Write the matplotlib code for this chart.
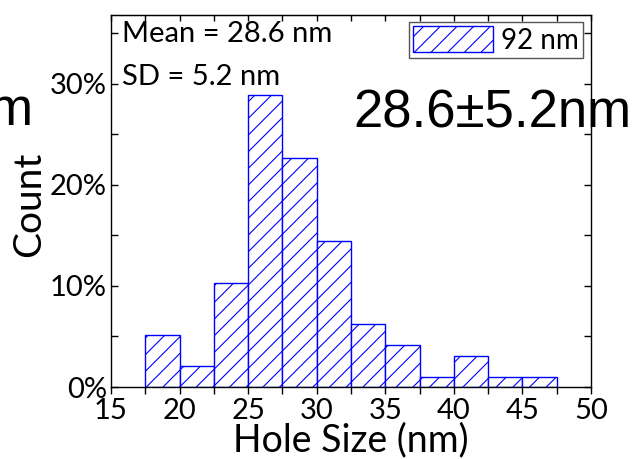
import matplotlib
matplotlib.use("Agg")
import matplotlib.pyplot as plt
from matplotlib.ticker import MultipleLocator, FuncFormatter

# histogram data (counts per 2.5 nm bin)
bin_edges = [17.5, 20, 22.5, 25, 27.5, 30, 32.5, 35, 37.5, 40, 42.5, 45, 47.5]
counts = [5, 2, 10, 28, 22, 14, 6, 4, 1, 3, 1, 1]
total = sum(counts)
percent = [c / total * 100 for c in counts]
legend_label = "92 nm"
mean_txt = "Mean = 28.6 nm"
sd_txt = "SD = 5.2 nm"
big_txt = "28.6\u00b15.2nm"

plt.rcParams["font.family"] = ["Lato", "DejaVu Sans"]
plt.rcParams["hatch.linewidth"] = 0.8

fig = plt.figure(figsize=(6.35, 4.59), dpi=100)
ax = fig.add_axes([111/635, 1-387/459, 480/635, 372/459])

widths = [bin_edges[i+1] - bin_edges[i] for i in range(len(counts))]
ax.bar(bin_edges[:-1], percent, width=widths, align="edge", facecolor="white",
       edgecolor="#0000ff", hatch="//", linewidth=1.0, label=legend_label)

ax.set_xlim(15, 50)
ax.set_ylim(0, 36.8)
ax.xaxis.set_major_locator(MultipleLocator(5))
ax.xaxis.set_minor_locator(MultipleLocator(2.5))
ax.yaxis.set_major_locator(MultipleLocator(10))
ax.yaxis.set_minor_locator(MultipleLocator(5))
ax.yaxis.set_major_formatter(FuncFormatter(lambda v, p: "%d%%" % v))

ax.tick_params(axis="x", which="both", direction="out", length=5, width=1,
               labelsize=21, pad=3)
ax.tick_params(axis="y", which="both", direction="in", length=5, width=1,
               labelsize=21, pad=3, right=True)
# top ticks point inward
top = ax.secondary_xaxis("top")
top.xaxis.set_major_locator(MultipleLocator(5))
top.xaxis.set_minor_locator(MultipleLocator(2.5))
top.tick_params(which="both", direction="in", length=4, width=1, labeltop=False)
for sp in ax.spines.values():
    sp.set_linewidth(1.0)

ax.set_xlabel("Hole Size (nm)", fontsize=27)
ax.xaxis.set_label_coords(0.5, (387-422)/372)
ax.set_ylabel("Count", fontsize=28)
ax.yaxis.set_label_coords((47-111)/480, 0.49)

leg = ax.legend(loc="upper right", bbox_to_anchor=(0.983, 0.981), borderaxespad=0,
                fontsize=20, handlelength=2.85, handleheight=1.05, borderpad=0.15,
                handletextpad=0.3, fancybox=False, framealpha=1)
leg.get_frame().set_edgecolor("#555555")
leg.get_frame().set_linewidth(1.0)

fig.text(122/635, 1-42/459, mean_txt, fontsize=21, va="baseline")
fig.text(122/635, 1-85/459, sd_txt, fontsize=21, va="baseline")
fig.text(353/635, 1-127/459, big_txt, fontsize=38, va="baseline",
         family=["Liberation Sans", "DejaVu Sans"])
fig.text(33/635, 1-125/459, big_txt, fontsize=38, va="baseline", ha="right",
         family=["Liberation Sans", "DejaVu Sans"])

fig.savefig("out.png", dpi=100)
